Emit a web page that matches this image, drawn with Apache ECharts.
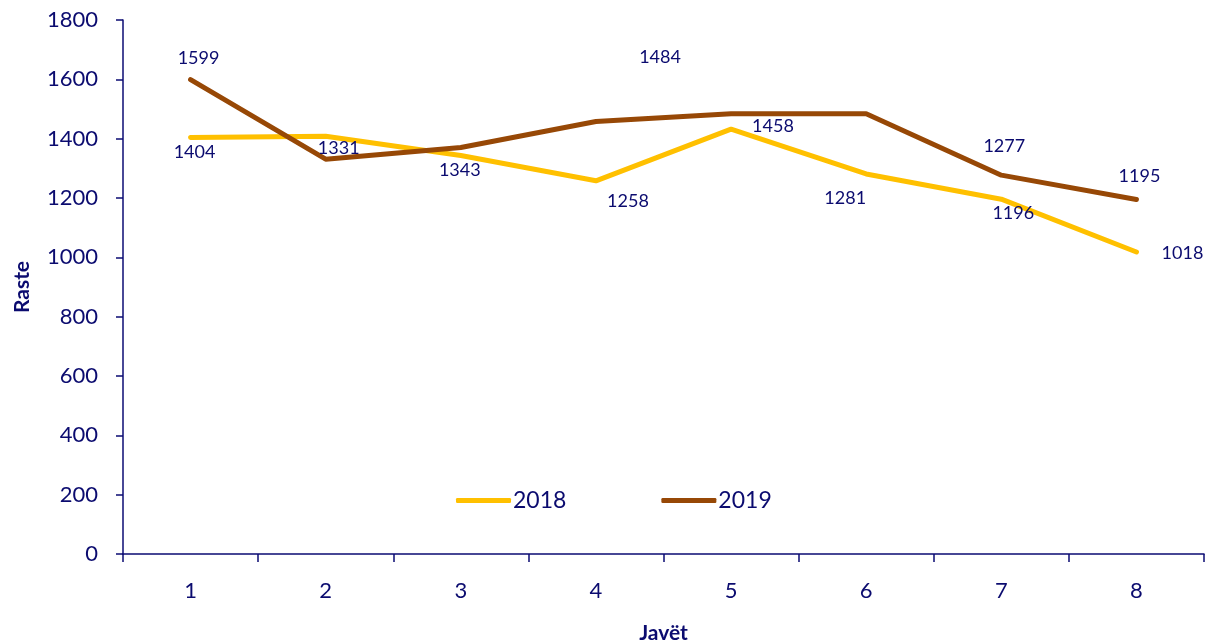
<!DOCTYPE html>
<html>
<head>
<meta charset="utf-8">
<script src="https://cdn.jsdelivr.net/npm/echarts@6/dist/echarts.min.js"></script>
<style>
html,body{margin:0;padding:0;background:#fff;}
#chart{width:1209px;height:641px;}
</style>
</head>
<body>
<div id="chart"></div>
<script>
// ---- data ----
const weeks = ['1','2','3','4','5','6','7','8'];
const series2018 = [1404, 1408, 1343, 1258, 1432, 1281, 1196, 1018];
const series2019 = [1599, 1331, 1370, 1458, 1484, 1484, 1277, 1195];
const yTicks = [0, 200, 400, 600, 800, 1000, 1200, 1400, 1600, 1800];
const seriesNames = ['2018', '2019'];

// ---- label placement (style, not data): offset of label centre from point, null = no label ----
const labelOffsets2018 = [[4,15], null, [-1,15], [32,20], null, [-21,24], [12,14], [46,1]];
const labelOffsets2019 = [[8,-21], [13,-11], null, [177,5], [-71,-57], null, [3,-29], [3,-23]];

const textColor = '#0b0b6f';
const axisColor = '#0b0b73';
const fontFamily = 'Lato, "Liberation Sans", sans-serif';

function buildData(values, offsets){
  return values.map((v, i) => {
    const off = offsets[i];
    return {
      value: v,
      label: off ? { show: true, position: 'inside', offset: off } : { show: false }
    };
  });
}

const chart = echarts.init(document.getElementById('chart'), null, {renderer: 'canvas'});
chart.setOption({
  animation: false,
  backgroundColor: '#ffffff',
  textStyle: { fontFamily: fontFamily, color: textColor },
  grid: { left: 123, right: 5, top: 20, bottom: 87, containLabel: false, outerBoundsMode: 'none' },
  legend: {
    data: seriesNames,
    left: 451,
    top: 484,
    icon: 'roundRect',
    itemWidth: 55,
    itemHeight: 5,
    itemGap: 95,
    textStyle: { fontFamily: fontFamily, fontSize: 23, color: textColor, padding: [0,0,0,-3] }
  },
  xAxis: {
    type: 'category',
    data: weeks,
    boundaryGap: true,
    name: 'Javët',
    nameLocation: 'middle',
    nameGap: 69,
    nameTextStyle: { fontFamily: fontFamily, fontSize: 21, fontWeight: 'bold', color: textColor },
    axisLine: { show: true, lineStyle: { color: axisColor, width: 1.5 } },
    axisTick: { show: true, interval: 0, alignWithLabel: false, length: 8, lineStyle: { color: axisColor, width: 1.5 } },
    axisLabel: { interval: 0, margin: 26, fontFamily: fontFamily, fontSize: 22, color: textColor },
    splitLine: { show: false }
  },
  yAxis: {
    type: 'value',
    min: yTicks[0],
    max: yTicks[yTicks.length - 1],
    interval: yTicks[1] - yTicks[0],
    name: 'Raste',
    nameLocation: 'middle',
    nameGap: 90,
    nameRotate: 90,
    nameTextStyle: { fontFamily: fontFamily, fontSize: 21, fontWeight: 'bold', color: textColor },
    axisLine: { show: true, lineStyle: { color: axisColor, width: 1.5 } },
    axisTick: { show: true, length: 7, inside: false, lineStyle: { color: axisColor, width: 1.5 } },
    axisLabel: { margin: 25, fontFamily: fontFamily, fontSize: 22, color: textColor, formatter: v => String(v) },
    splitLine: { show: false }
  },
  series: [
    {
      name: seriesNames[0],
      type: 'line',
      data: buildData(series2018, labelOffsets2018),
      symbol: 'circle',
      symbolSize: 1,
      showSymbol: true,
      itemStyle: { color: '#FFC000' },
      lineStyle: { color: '#FFC000', width: 5, cap: 'round', join: 'round' },
      label: { fontFamily: fontFamily, fontSize: 18, color: textColor },
      z: 2
    },
    {
      name: seriesNames[1],
      type: 'line',
      data: buildData(series2019, labelOffsets2019),
      symbol: 'circle',
      symbolSize: 1,
      showSymbol: true,
      itemStyle: { color: '#974806' },
      lineStyle: { color: '#974806', width: 5, cap: 'round', join: 'round' },
      label: { fontFamily: fontFamily, fontSize: 18, color: textColor },
      z: 3
    }
  ]
});
</script>
</body>
</html>
